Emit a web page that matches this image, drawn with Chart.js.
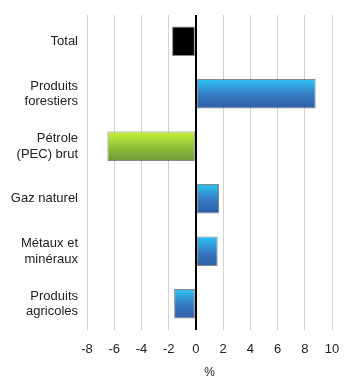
<!DOCTYPE html>
<html>
<head>
<meta charset="utf-8">
<script src="https://cdn.jsdelivr.net/npm/chart.js@4"></script>
<style>
  html, body { margin: 0; padding: 0; background: #fff; }
  #wrap { width: 360px; height: 385px; }
</style>
</head>
<body>
<div id="wrap"><canvas id="c" width="360" height="385"></canvas></div>
<script>
const categories = [
  ['Total'],
  ['Produits', 'forestiers'],
  ['Pétrole', '(PEC) brut'],
  ['Gaz naturel'],
  ['Métaux et', 'minéraux'],
  ['Produits', 'agricoles']
];
const values = [-1.75, 8.8, -6.5, 1.7, 1.6, -1.6];
const barKinds = ['total', 'blue', 'green', 'blue', 'blue', 'blue'];
const xTicks = [-8, -6, -4, -2, 0, 2, 4, 6, 8, 10];

// degradé vertical par barre
function barFill(context) {
  const chart = context.chart;
  const kind = barKinds[context.dataIndex];
  if (kind === 'total') return '#000000';
  const yScale = chart.scales.y;
  if (!chart.chartArea || !yScale) return kind === 'green' ? '#8cc63f' : '#2d8fd5';
  const yc = yScale.getPixelForValue(context.dataIndex);
  const g = chart.ctx.createLinearGradient(0, yc - 15, 0, yc + 15);
  if (kind === 'green') {
    g.addColorStop(0, '#c6f43c');
    g.addColorStop(0.55, '#8cbf3a');
    g.addColorStop(1, '#6b9a36');
  } else {
    g.addColorStop(0, '#2ec4f4');
    g.addColorStop(0.55, '#3479c0');
    g.addColorStop(1, '#2f5da6');
  }
  return g;
}

new Chart(document.getElementById('c').getContext('2d'), {
  type: 'bar',
  data: {
    labels: categories,
    datasets: [{
      data: values,
      backgroundColor: barFill,
      borderColor: 'rgba(40,40,40,0.55)',
      borderWidth: 1,
      borderSkipped: false,
      barPercentage: 0.56,
      categoryPercentage: 1
    }]
  },
  options: {
    indexAxis: 'y',
    responsive: false,
    animation: false,
    layout: { padding: { top: 15, right: 28, left: 0, bottom: 0 } },
    plugins: { legend: { display: false }, tooltip: { enabled: false } },
    scales: {
      x: {
        min: -8,
        max: 10,
        afterBuildTicks: (scale) => { scale.ticks = xTicks.map(v => ({ value: v })); },
        grid: {
          drawTicks: false,
          color: (ctx) => ctx.tick && ctx.tick.value === 0 ? '#000000' : '#d2d2d2',
          lineWidth: (ctx) => ctx.tick && ctx.tick.value === 0 ? 2 : 1
        },
        border: { display: false },
        ticks: {
          padding: 12,
          color: '#222',
          font: { family: 'Liberation Sans', size: 13 }
        },
        title: {
          display: true,
          text: '%',
          color: '#222',
          font: { family: 'Liberation Sans', size: 12 },
          padding: { top: 3, bottom: 5 }
        },
        afterFit: (scale) => { scale.height = 55; }
      },
      y: {
        grid: { display: false, drawTicks: false },
        border: { display: false },
        ticks: {
          padding: 9,
          color: '#222',
          font: { family: 'Liberation Sans', size: 13, lineHeight: 1.2 }
        },
        afterFit: (scale) => {
          scale.width = 87;
          scale.paddingTop = 0;
          scale.paddingBottom = 0;
        }
      }
    }
  }
});
</script>
</body>
</html>
